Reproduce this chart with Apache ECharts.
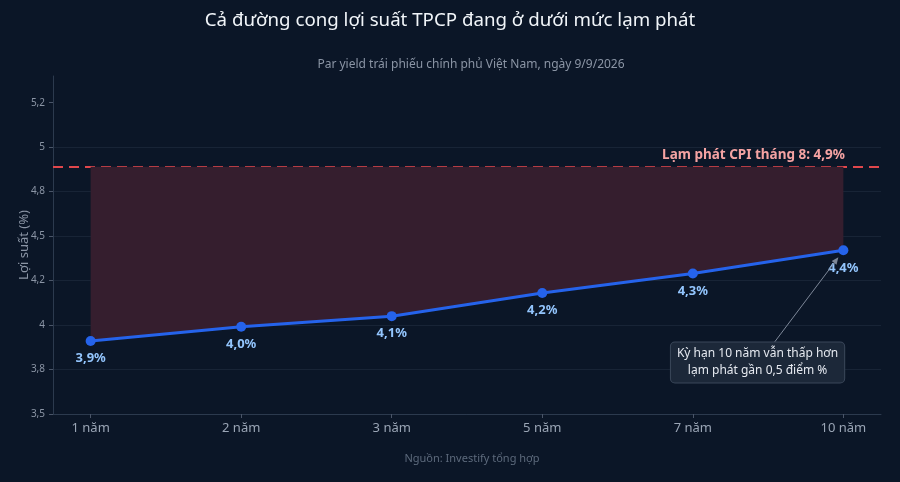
<!DOCTYPE html>
<html>
<head>
<meta charset="utf-8">
<script src="https://cdn.jsdelivr.net/npm/echarts@6/dist/echarts.min.js"></script>
<style>
  html, body { margin: 0; padding: 0; background: #0b1627; }
  #chart { width: 900px; height: 482px; }
</style>
</head>
<body>
<div id="chart"></div>
<script>
const tenors = ['1 năm', '2 năm', '3 năm', '5 năm', '7 năm', '10 năm'];
const yields = [3.91, 3.99, 4.05, 4.18, 4.29, 4.42];
const yieldLabels = ['3,9%', '4,0%', '4,1%', '4,2%', '4,3%', '4,4%'];
const cpi = 4.89;
const cpiLabel = 'Lạm phát CPI tháng 8: 4,9%';
const yTicks = [3.5, 3.75, 4, 4.25, 4.5, 4.75, 5, 5.25];
const yTickLabels = ['3,5', '3,8', '4', '4,2', '4,5', '4,8', '5', '5,2'];
const note = 'Kỳ hạn 10 năm vẫn thấp hơn\nlạm phát gần 0,5 điểm %';

const font = 'Noto Sans';
const chart = echarts.init(document.getElementById('chart'));

const points = yields.map((v, i) => [i, v]);

const option = {
  backgroundColor: '#0b1627',
  textStyle: { fontFamily: font },
  title: [
    {
      text: 'Cả đường cong lợi suất TPCP đang ở dưới mức lạm phát',
      left: 'center', top: 6,
      textStyle: { color: '#f1f5f9', fontSize: 18.7, fontWeight: 'normal', fontFamily: font }
    },
    {
      text: 'Par yield trái phiếu chính phủ Việt Nam, ngày 9/9/2026',
      left: 466, top: 54, textAlign: 'center',
      textStyle: { color: '#8b95a5', fontSize: 12, fontWeight: 'normal', fontFamily: font }
    },
    {
      text: 'Nguồn: Investify tổng hợp',
      left: 467, top: 448, textAlign: 'center',
      textStyle: { color: '#5d6a7c', fontSize: 11, fontWeight: 'normal', fontFamily: font }
    }
  ],
  grid: { left: 53, right: 19, top: 76, bottom: 68 },
  xAxis: {
    type: 'value',
    min: -0.25, max: 5.25,
    splitLine: { show: false },
    axisLine: { onZero: false, lineStyle: { color: '#2c3a4e' } },
    axisTick: { show: true, customValues: tenors.map((t, i) => i), length: 4, lineStyle: { color: '#4a5568' } },
    axisLabel: {
      customValues: tenors.map((t, i) => i),
      formatter: v => tenors[Math.round(v)],
      color: '#9aa5b5', fontSize: 13, margin: 8, fontFamily: font
    }
  },
  yAxis: {
    type: 'value',
    min: 3.5, max: 5.4,
    name: 'Lợi suất (%)',
    nameLocation: 'middle', nameGap: 22, nameMoveOverlap: false,
    nameTextStyle: { color: '#8b95a5', fontSize: 13, fontFamily: font },
    axisLine: { show: true, onZero: false, lineStyle: { color: '#2c3a4e' } },
    axisTick: { show: true, customValues: yTicks, length: 4, lineStyle: { color: '#4a5568' } },
    axisLabel: {
      customValues: yTicks,
      formatter: v => yTickLabels[yTicks.indexOf(v)] || '',
      color: '#8b95a5', fontSize: 10, margin: 8, fontFamily: font
    },
    splitLine: { show: true, showMaxLine: false, lineStyle: { color: '#182436', width: 1 } }
  },
  series: [
    {
      name: 'Lợi suất',
      type: 'line',
      data: points,
      symbol: 'circle',
      symbolSize: 10,
      lineStyle: { color: '#2563eb', width: 3 },
      itemStyle: { color: '#2563eb' },
      areaStyle: { color: '#351e2e', opacity: 1, origin: cpi },
      label: {
        show: true,
        position: 'bottom',
        distance: 6,
        formatter: p => yieldLabels[p.dataIndex],
        color: '#93c5fd', fontSize: 13, fontWeight: 'bold', fontFamily: font
      },
      markLine: {
        silent: true,
        symbol: 'none',
        data: [{ yAxis: cpi }],
        lineStyle: { color: '#e0474c', type: [10, 6], width: 2 },
        label: {
          show: true,
          position: 'insideEndTop',
          distance: [36, 5],
          formatter: cpiLabel,
          color: '#f5a3a3', fontSize: 13.5, fontWeight: 'bold', fontFamily: font
        }
      },
      z: 5
    }
  ]
};

chart.setOption(option);

// annotation box with arrow to the 10-year point
const tip = chart.convertToPixel({ gridIndex: 0 }, [5, yields[5]]);
const box = chart.convertToPixel({ gridIndex: 0 }, [4.43, 3.79]);
const tail = [box[0] + 16, box[1] - 19];
const head = [tip[0] - 5, tip[1] + 7];
const ang = Math.atan2(head[1] - tail[1], head[0] - tail[0]);
const ah = 7, aw = 3;
const back = [head[0] - ah * Math.cos(ang), head[1] - ah * Math.sin(ang)];
const arrow = [
  head,
  [back[0] + aw * Math.sin(ang), back[1] - aw * Math.cos(ang)],
  [back[0] - aw * Math.sin(ang), back[1] + aw * Math.cos(ang)]
];

chart.setOption({
  graphic: [
    {
      type: 'line', z: 10,
      shape: { x1: tail[0], y1: tail[1], x2: back[0], y2: back[1] },
      style: { stroke: '#7d8798', lineWidth: 1 }
    },
    {
      type: 'polygon', z: 10,
      shape: { points: arrow },
      style: { fill: '#7d8798' }
    },
    {
      type: 'text', z: 11,
      x: box[0], y: box[1],
      style: {
        text: note,
        align: 'center', verticalAlign: 'middle',
        fill: '#e5e9f0', font: '12px "Noto Sans"', lineHeight: 17,
        backgroundColor: '#1c2839', borderColor: '#3a475a', borderWidth: 1,
        borderRadius: 4, padding: [3, 6]
      }
    }
  ]
});
</script>
</body>
</html>
